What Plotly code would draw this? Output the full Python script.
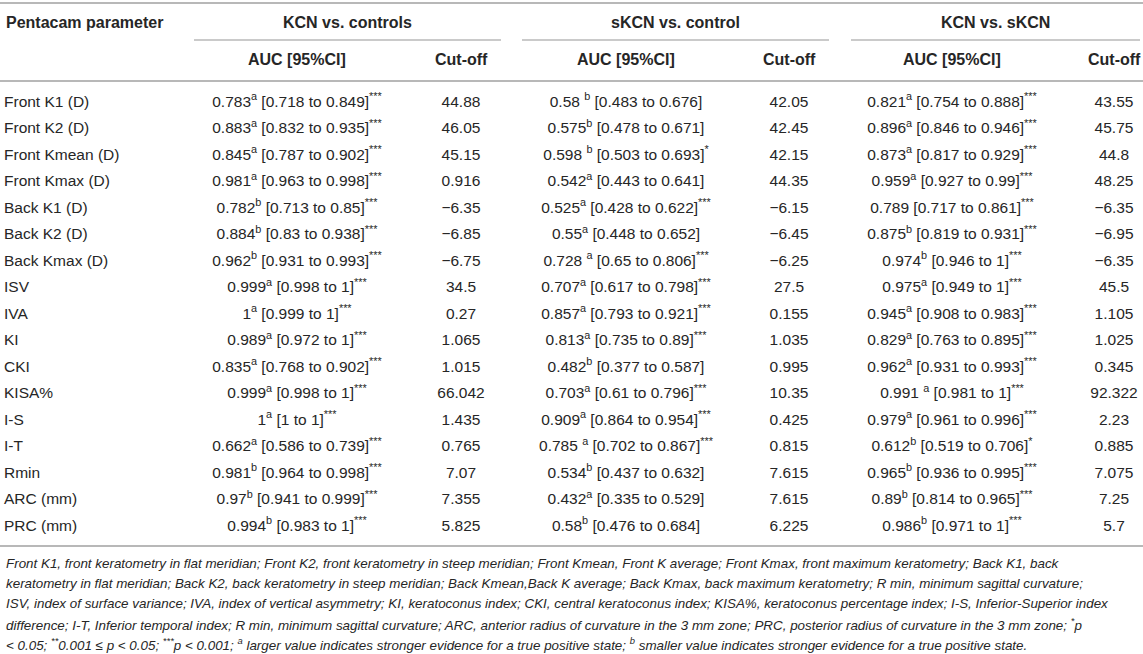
import plotly.graph_objects as go

# =============================
# Datos de la tabla (AUC y puntos de corte Pentacam)
# =============================
params = ["Front K1 (D)", "Front K2 (D)", "Front Kmean (D)", "Front Kmax (D)",
          "Back K1 (D)", "Back K2 (D)", "Back Kmax (D)", "ISV", "IVA", "KI",
          "CKI", "KISA%", "I-S", "I-T", "Rmin", "ARC (mm)", "PRC (mm)"]

# KCN vs. controls
auc_1 = [0.783, 0.883, 0.845, 0.981, 0.782, 0.884, 0.962, 0.999, 1, 0.989,
         0.835, 0.999, 1, 0.662, 0.981, 0.97, 0.994]
sup_1 = ["a", "a", "a", "a", "b", "b", "b", "a", "a", "a", "a", "a", "a", "a", "b", "b", "b"]
lo_1 = [0.718, 0.832, 0.787, 0.963, 0.713, 0.83, 0.931, 0.998, 0.999, 0.972,
        0.768, 0.998, 1, 0.586, 0.964, 0.941, 0.983]
hi_1 = [0.849, 0.935, 0.902, 0.998, 0.85, 0.938, 0.993, 1, 1, 1,
        0.902, 1, 1, 0.739, 0.998, 0.999, 1]
sig_1 = ["***"] * 17
cut_1 = [44.88, 46.05, 45.15, 0.916, -6.35, -6.85, -6.75, 34.5, 0.27, 1.065,
         1.015, 66.042, 1.435, 0.765, 7.07, 7.355, 5.825]

# sKCN vs. control
auc_2 = [0.58, 0.575, 0.598, 0.542, 0.525, 0.55, 0.728, 0.707, 0.857, 0.813,
         0.482, 0.703, 0.909, 0.785, 0.534, 0.432, 0.58]
sup_2 = [" b", "b", " b", "a", "a", "a", " a", "a", "a", "a", "b", "a", "a", " a", "b", "a", "b"]
lo_2 = [0.483, 0.478, 0.503, 0.443, 0.428, 0.448, 0.65, 0.617, 0.793, 0.735,
        0.377, 0.61, 0.864, 0.702, 0.437, 0.335, 0.476]
hi_2 = [0.676, 0.671, 0.693, 0.641, 0.622, 0.652, 0.806, 0.798, 0.921, 0.89,
        0.587, 0.796, 0.954, 0.867, 0.632, 0.529, 0.684]
sig_2 = ["", "", "*", "", "***", "", "***", "***", "***", "***",
         "", "***", "***", "***", "", "", ""]
cut_2 = [42.05, 42.45, 42.15, 44.35, -6.15, -6.45, -6.25, 27.5, 0.155, 1.035,
         0.995, 10.35, 0.425, 0.815, 7.615, 7.615, 6.225]

# KCN vs. sKCN
auc_3 = [0.821, 0.896, 0.873, 0.959, 0.789, 0.875, 0.974, 0.975, 0.945, 0.829,
         0.962, 0.991, 0.979, 0.612, 0.965, 0.89, 0.986]
sup_3 = ["a", "a", "a", "a", "", "b", "b", "a", "a", "a", "a", " a", "a", "b", "b", "b", "b"]
lo_3 = [0.754, 0.846, 0.817, 0.927, 0.717, 0.819, 0.946, 0.949, 0.908, 0.763,
        0.931, 0.981, 0.961, 0.519, 0.936, 0.814, 0.971]
hi_3 = [0.888, 0.946, 0.929, 0.99, 0.861, 0.931, 1, 1, 0.983, 0.895,
        0.993, 1, 0.996, 0.706, 0.995, 0.965, 1]
sig_3 = ["***"] * 13 + ["*"] + ["***"] * 3
cut_3 = [43.55, 45.75, 44.8, 48.25, -6.35, -6.95, -6.35, 45.5, 1.105, 1.025,
         0.345, 92.322, 2.23, 0.885, 7.075, 7.25, 5.7]

groups = ["KCN vs. controls", "sKCN vs. control", "KCN vs. sKCN"]
subheads = ["AUC [95%CI]", "Cut-off"]

footnote = [
    "Front K1, front keratometry in flat meridian; Front K2, front keratometry in steep meridian; Front Kmean, Front K average; Front Kmax, front maximum keratometry; Back K1, back",
    "keratometry in flat meridian; Back K2, back keratometry in steep meridian; Back Kmean,Back K average; Back Kmax, back maximum keratometry; R min, minimum sagittal curvature;",
    "ISV, index of surface variance; IVA, index of vertical asymmetry; KI, keratoconus index; CKI, central keratoconus index; KISA%, keratoconus percentage index; I-S, Inferior-Superior index",
    "difference; I-T, Inferior temporal index; R min, minimum sagittal curvature; ARC, anterior radius of curvature in the 3 mm zone; PRC, posterior radius of curvature in the 3 mm zone; <sup>*</sup>p",
    "< 0.05; <sup>**</sup>0.001 ≤ p < 0.05; <sup>***</sup>p < 0.001; <sup>a</sup> larger value indicates stronger evidence for a true positive state; <sup>b</sup> smaller value indicates stronger evidence for a true positive state.",
]

# =============================
# Geometría (en píxeles)
# =============================
W, H = 1143, 654
FONT = "Liberation Sans, Arial, sans-serif"
TXT = "#262626"
LINE = "#b8b8b8"
FS = 15.5

row0, step = 103, 26.5
row_y = [row0 + i * step for i in range(len(params))]
auc_x = [297, 626, 952]
cut_x = [461, 789, 1114]
seg = [(194, 501), (522, 829), (851, 1140)]


def num(v):
    return f"{v:g}".replace("-", "−")


def celdas(auc, sup, lo, hi, sig):
    out = []
    for a, s, l, h, g in zip(auc, sup, lo, hi, sig):
        t = num(a)
        if s:
            t += (" " if s.startswith(" ") else "") + f"<sup>{s.strip()}</sup>"
        t += f" [{num(l)} to {num(h)}]"
        if g:
            t += f"<sup>{g}</sup>"
        out.append(t)
    return out


fig = go.Figure()
fnt = dict(family=FONT, size=FS, color=TXT)

fig.add_trace(go.Scatter(x=[4] * len(params), y=row_y, text=params, mode="text",
                         textposition="middle right", textfont=fnt, hoverinfo="skip"))

cols = [(auc_1, sup_1, lo_1, hi_1, sig_1, cut_1),
        (auc_2, sup_2, lo_2, hi_2, sig_2, cut_2),
        (auc_3, sup_3, lo_3, hi_3, sig_3, cut_3)]
for k, (a, s, l, h, g, c) in enumerate(cols):
    fig.add_trace(go.Scatter(x=[auc_x[k]] * len(a), y=row_y, text=celdas(a, s, l, h, g),
                             mode="text", textposition="middle center", textfont=fnt,
                             hoverinfo="skip"))
    fig.add_trace(go.Scatter(x=[cut_x[k]] * len(c), y=row_y, text=[num(v) for v in c],
                             mode="text", textposition="middle center", textfont=fnt,
                             hoverinfo="skip"))

# Encabezados y nota al pie
bold = dict(family=FONT, size=16, color=TXT)
anns = [dict(x=4, y=22, text="<b>Pentacam parameter</b>", xanchor="left")]
for k, gname in enumerate(groups):
    anns.append(dict(x=(seg[k][0] + seg[k][1]) / 2, y=22, text=f"<b>{gname}</b>"))
    anns.append(dict(x=auc_x[k], y=59, text=f"<b>{subheads[0]}</b>"))
    anns.append(dict(x=cut_x[k], y=59, text=f"<b>{subheads[1]}</b>"))
for i, t in enumerate(footnote):
    anns.append(dict(x=4, y=563 + i * 20.4, text=f"<i>{t}</i>", xanchor="left",
                     font=dict(family=FONT, size=13.4, color=TXT)))
for a in anns:
    a.setdefault("font", bold)
    a.setdefault("xanchor", "center")
    a.update(xref="x", yref="y", yanchor="middle", showarrow=False)
fig.update_layout(annotations=anns)

# Líneas de la tabla
shapes = [dict(type="line", x0=0, x1=W, y0=3, y1=3, line=dict(color=LINE, width=2)),
          dict(type="line", x0=0, x1=W, y0=81, y1=81, line=dict(color=LINE, width=2)),
          dict(type="line", x0=0, x1=W, y0=546, y1=546, line=dict(color=LINE, width=2))]
for x0, x1 in seg:
    shapes.append(dict(type="line", x0=x0, x1=x1, y0=40, y1=40, line=dict(color=LINE, width=1.3)))
for s in shapes:
    s.update(xref="x", yref="y")

fig.update_layout(
    shapes=shapes,
    width=W, height=H,
    margin=dict(l=0, r=0, t=0, b=0),
    paper_bgcolor="white", plot_bgcolor="white",
    showlegend=False,
    xaxis=dict(range=[0, W], visible=False, fixedrange=True),
    yaxis=dict(range=[H, 0], visible=False, fixedrange=True),
)

fig.write_html("out.html", config={"displayModeBar": False},
               post_script="document.body.style.margin='0px';")
